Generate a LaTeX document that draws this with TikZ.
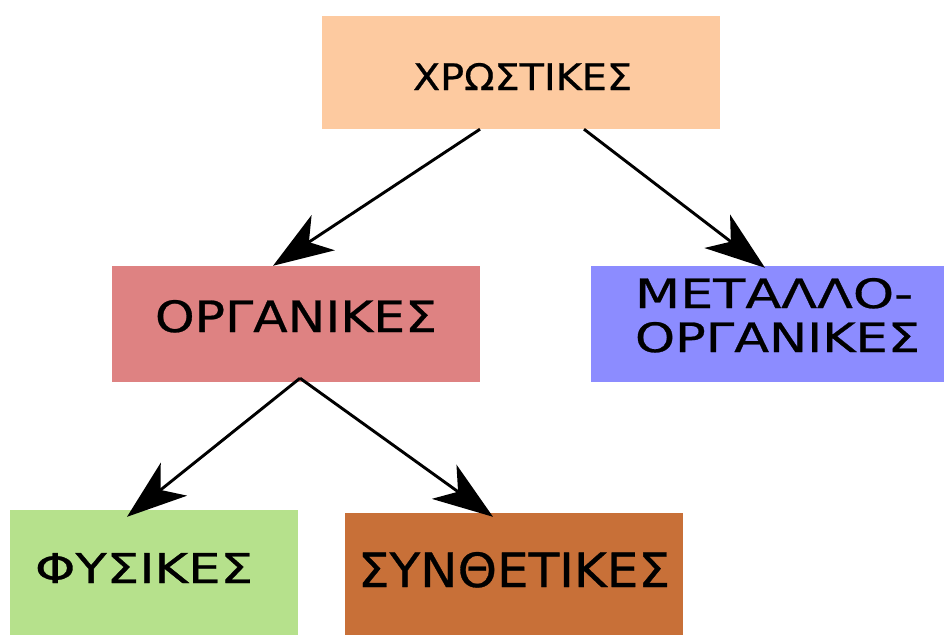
\documentclass[tikz,border=0pt]{standalone}
\usepackage{fontspec}
\usetikzlibrary{arrows.meta}
\newfontfamily\labelfont[FakeBold=0.6]{DejaVu Sans}
\definecolor{peach}{RGB}{253,202,160}
\definecolor{rosered}{RGB}{222,130,130}
\definecolor{lavblue}{RGB}{140,140,255}
\definecolor{leafgreen}{RGB}{182,225,140}
\definecolor{rust}{RGB}{200,112,56}
% scale a label to an exact cap width and height
\newcommand{\fitlbl}[3]{\resizebox{#1pt}{#2pt}{\labelfont #3}}
\begin{document}
\begin{tikzpicture}[x=1pt,y=1pt,
  box/.style={rectangle, draw=none, inner sep=0pt},
  txt/.style={inner sep=0pt, anchor=base},
  arr/.style={line width=2.9pt, -{Stealth[length=60pt 0,width=42pt 0,inset=17pt 0]}}]
\useasboundingbox (0,0) rectangle (944,-635);
% boxes
\node[box, fill=peach, minimum width=398pt, minimum height=113pt] (top) at (521,-72.5) {};
\node[box, fill=rosered, minimum width=368pt, minimum height=116pt] (org) at (296,-324) {};
\node[box, fill=lavblue, minimum width=353pt, minimum height=116pt] (met) at (767.5,-324) {};
\node[box, fill=leafgreen, minimum width=288pt, minimum height=125pt] (phy) at (154,-572.5) {};
\node[box, fill=rust, minimum width=338pt, minimum height=122pt] (syn) at (513.5,-574) {};
% labels
\node[txt] (topt) at (522.5,-90) {\fitlbl{219}{27}{ΧΡΩΣΤΙΚΕΣ}};
\node[txt] (orgt) at (296,-332) {\fitlbl{282}{32}{ΟΡΓΑΝΙΚΕΣ}};
\node[txt] (mett1) at (774,-308) {\fitlbl{278}{30}{ΜΕΤΑΛΛΟ-}};
\node[txt] (mett2) at (777.5,-352) {\fitlbl{285}{30}{ΟΡΓΑΝΙΚΕΣ}};
\node[txt] (phyt) at (144,-583) {\fitlbl{218}{30}{ΦΥΣΙΚΕΣ}};
\node[txt] (synt) at (514,-587) {\fitlbl{312}{35}{ΣΥΝΘΕΤΙΚΕΣ}};
% connectors
\draw[arr] ([xshift=-41pt]top.south) -- ([xshift=-23pt]org.north);
\draw[arr] ([xshift=63pt]top.south) -- ([xshift=-2.5pt,yshift=-2pt]met.north);
\draw[arr] ([xshift=4pt,yshift=4pt]org.south) -- ([xshift=-27pt,yshift=-7pt]phy.north);
\draw[arr] ([xshift=4pt,yshift=4pt]org.south) -- ([xshift=-20.5pt,yshift=-4pt]syn.north);
\end{tikzpicture}
\end{document}
